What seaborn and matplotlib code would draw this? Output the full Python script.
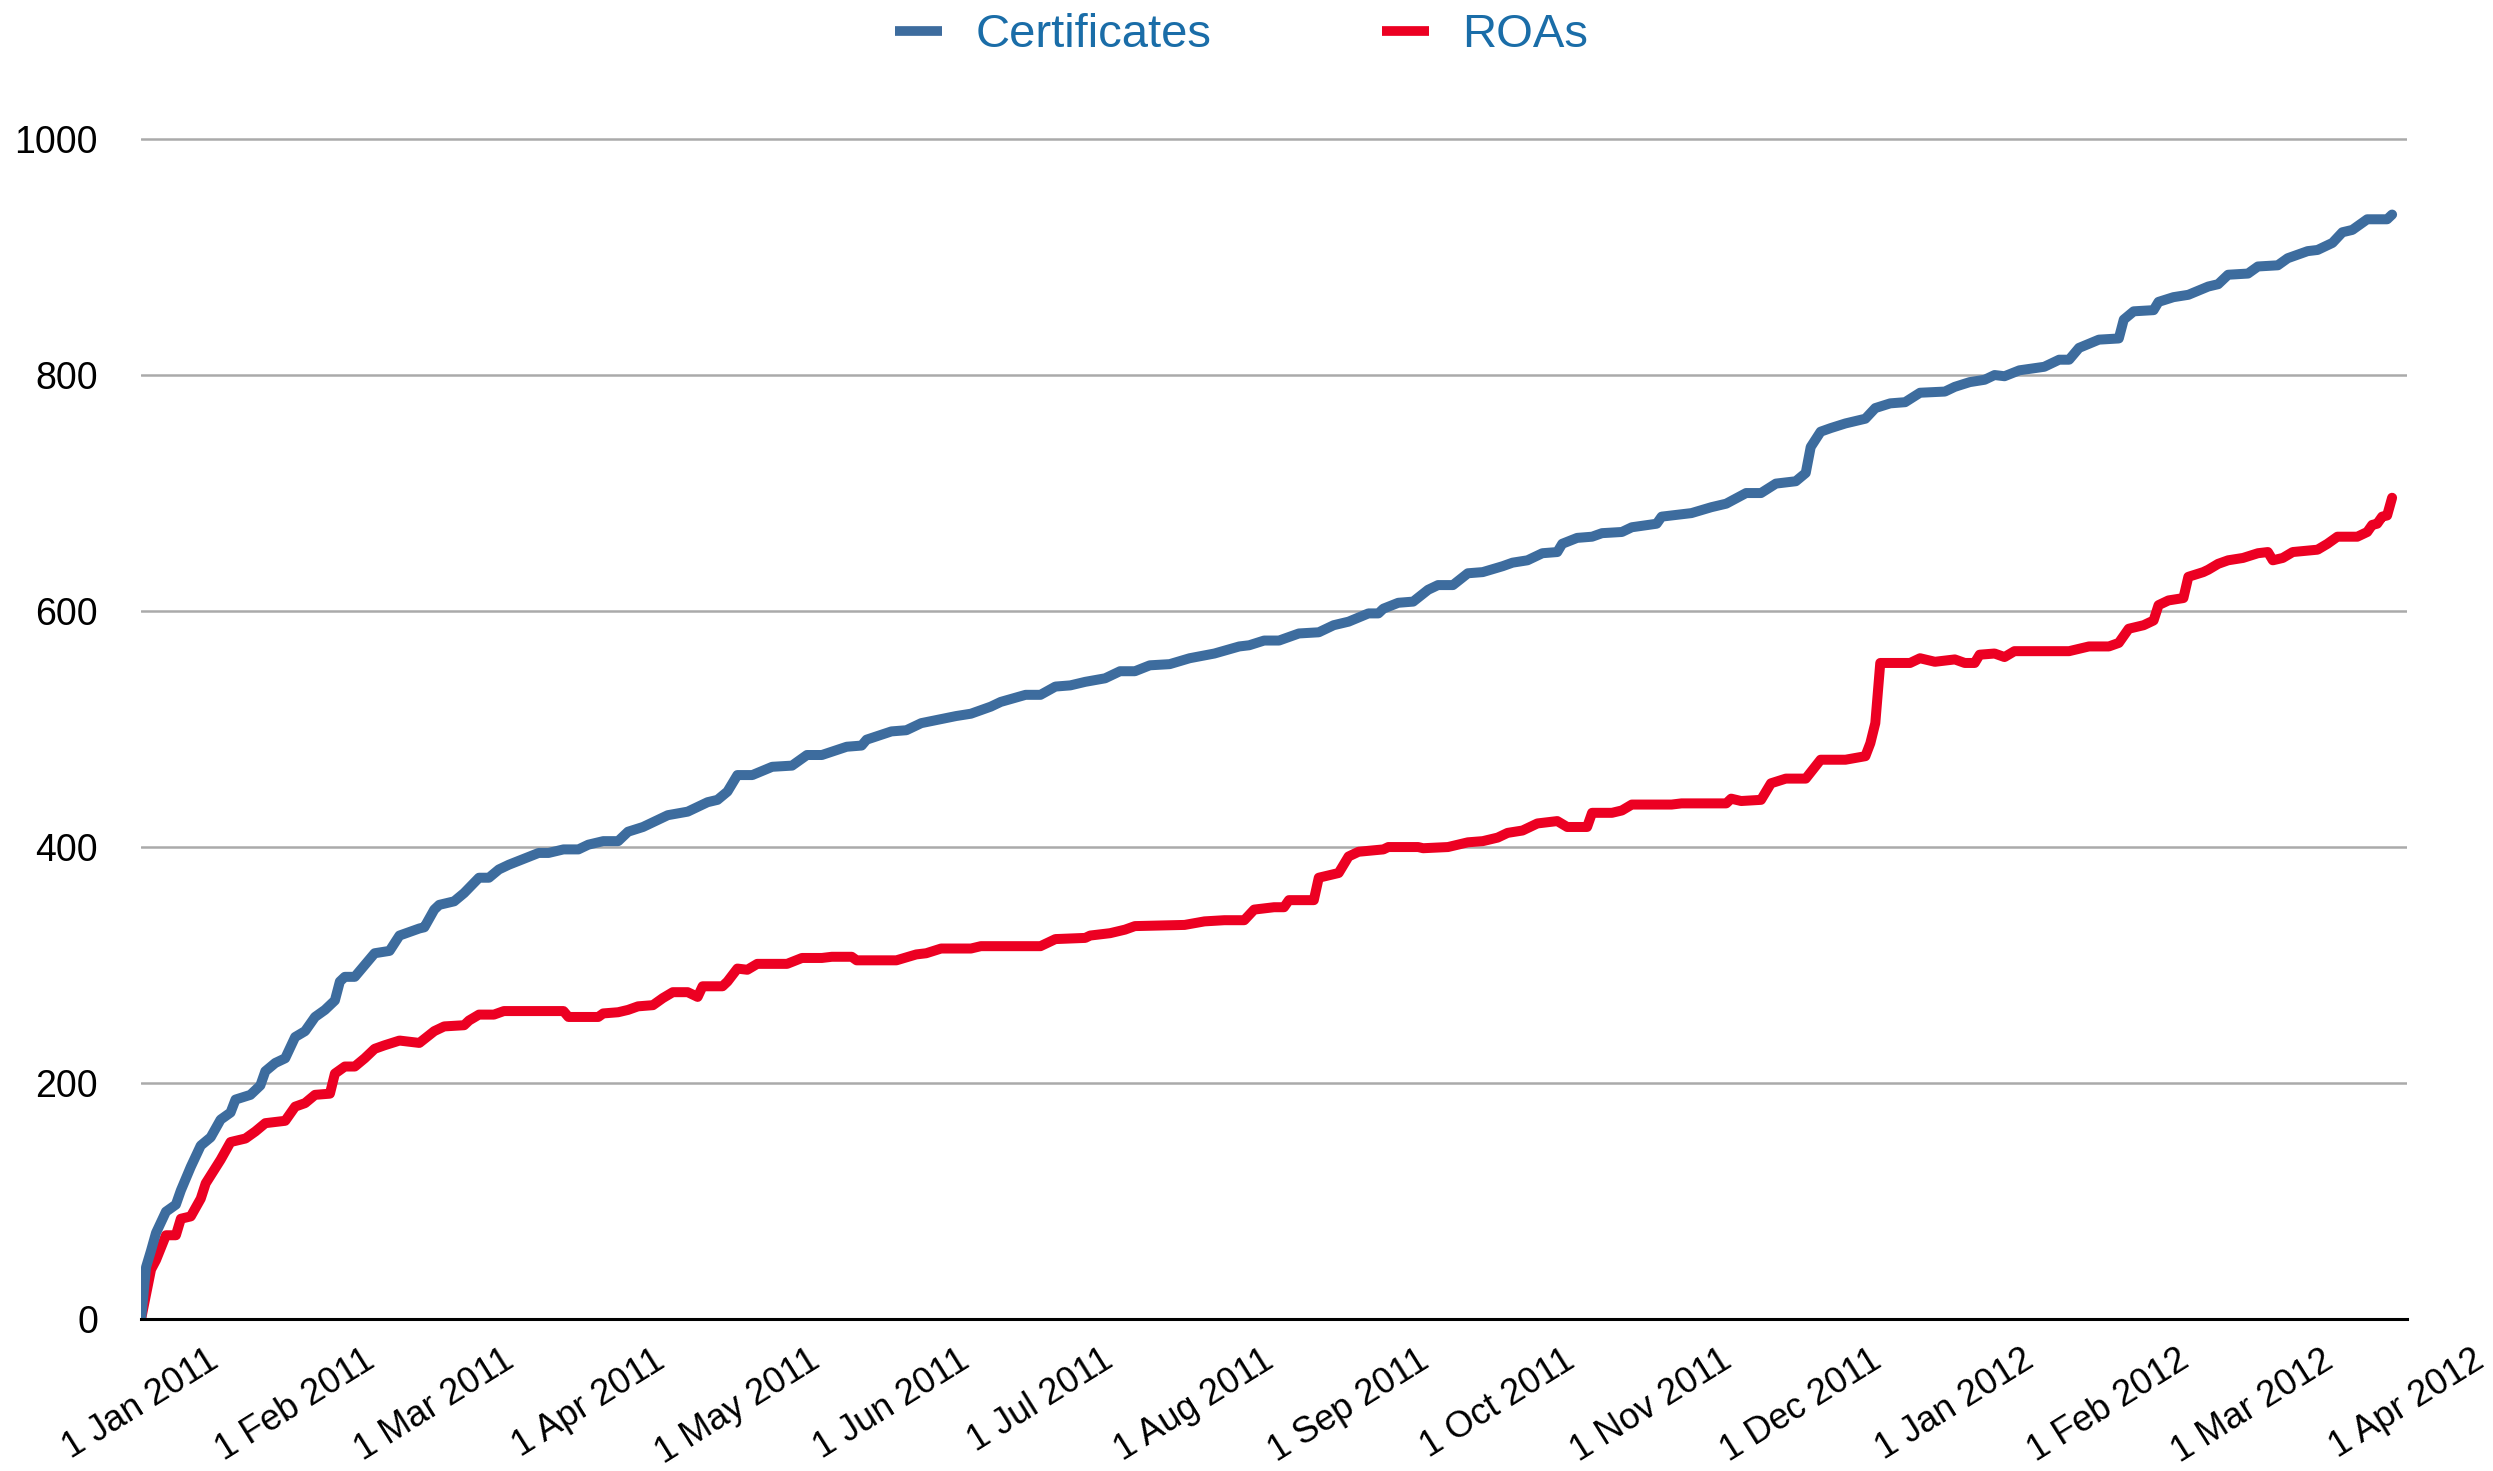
import pandas as pd
import matplotlib
matplotlib.use("Agg")
import matplotlib.pyplot as plt
import matplotlib.dates as mdates
from matplotlib.ticker import FuncFormatter, FixedLocator
from matplotlib.lines import Line2D
import seaborn as sns

# ---- data (days since 1 Jan 2011, cumulative counts) ----
START_DATE = "2011-01-01"
END_DATE = "2012-04-01"

cert_days = [0, 1, 2, 3, 5, 7, 8, 10, 12, 14, 16, 18, 19, 22, 24, 25, 27, 29, 31, 33,
             35, 37, 39, 40, 41, 43, 45, 47, 50, 52, 56, 57, 59, 60, 63, 65, 68, 70, 72, 74,
             77, 80, 82, 85, 88, 90, 93, 96, 98, 101, 106, 110, 112, 114, 116, 118, 120, 123, 127, 131,
             134, 137, 142, 145, 146, 151, 154, 157, 164, 167, 171, 173, 178, 181, 184, 187, 190, 194, 197, 200,
             203, 207, 211, 216, 221, 223, 226, 229, 233, 237, 240, 243, 247, 249, 250, 253, 256, 259, 261, 264,
             267, 270, 274, 276, 279, 282, 285, 286, 289, 292, 294, 298, 300, 305, 306, 312, 316, 319, 323, 326,
             329, 333, 335, 336, 338, 340, 343, 347, 349, 352, 355, 358, 363, 365, 368, 371, 373, 375, 378, 383,
             386, 388, 390, 394, 398, 399, 401, 405, 406, 409, 412, 416, 418, 420, 424, 426, 430, 432, 436, 438,
             441, 443, 445, 448, 452, 453]
cert_counts = [0, 44, 58, 73, 91, 97, 109, 129, 147, 154, 169, 175, 186, 190, 198, 210, 217, 221, 239, 244,
               256, 262, 270, 286, 290, 290, 300, 310, 312, 325, 331, 332, 347, 351, 354, 361, 374, 374, 381, 385,
               390, 395, 395, 398, 398, 402, 405, 405, 413, 417, 427, 430, 434, 438, 440, 447, 461, 461, 468, 469,
               478, 478, 485, 486, 491, 498, 499, 505, 511, 513, 519, 523, 529, 529, 536, 537, 540, 543, 549, 549,
               554, 555, 560, 564, 570, 571, 575, 575, 581, 582, 588, 591, 598, 598, 602, 607, 608, 618, 622, 622,
               632, 633, 638, 641, 643, 649, 650, 657, 662, 663, 666, 667, 671, 674, 680, 683, 688, 691, 700, 700,
               708, 710, 717, 739, 752, 755, 759, 763, 772, 776, 777, 785, 786, 790, 794, 796, 800, 799, 804, 807,
               813, 813, 823, 830, 831, 847, 854, 855, 862, 866, 868, 875, 877, 885, 886, 892, 893, 899, 905, 906,
               912, 921, 923, 932, 932, 936]

roa_days = [0, 2, 3, 5, 7, 8, 10, 12, 13, 16, 18, 21, 23, 25, 29, 31, 33, 35, 38, 39,
            41, 43, 45, 47, 49, 52, 56, 59, 61, 65, 66, 68, 71, 73, 85, 86, 92, 93, 96, 98,
            100, 103, 105, 107, 110, 112, 113, 117, 118, 120, 122, 124, 130, 133, 137, 139, 143, 144, 152, 156,
            158, 161, 167, 169, 181, 184, 190, 191, 195, 198, 200, 210, 214, 218, 222, 224, 228, 230, 231, 236,
            237, 241, 243, 245, 250, 251, 257, 258, 263, 267, 270, 273, 275, 278, 281, 285, 287, 291, 292, 296,
            298, 300, 308, 310, 319, 320, 322, 326, 328, 331, 335, 338, 343, 347, 348, 349, 350, 356, 358, 361,
            365, 367, 369, 370, 373, 375, 377, 388, 390, 392, 396, 398, 400, 403, 405, 406, 408, 411, 412, 415,
            416, 418, 420, 423, 426, 428, 429, 431, 433, 438, 440, 442, 446, 448, 449, 450, 451, 452, 453]
roa_counts = [0, 42, 50, 71, 71, 85, 87, 102, 115, 135, 150, 153, 159, 166, 168, 180, 183, 190, 191, 208,
              214, 214, 221, 229, 232, 236, 234, 244, 248, 249, 253, 258, 258, 261, 261, 256, 256, 259, 260, 262,
              265, 266, 272, 277, 277, 273, 282, 282, 286, 297, 296, 301, 301, 306, 306, 307, 307, 304, 304, 309,
              310, 314, 314, 316, 316, 322, 323, 325, 327, 330, 333, 334, 337, 338, 338, 347, 349, 349, 355, 355,
              374, 378, 392, 396, 398, 400, 400, 399, 400, 404, 405, 408, 412, 414, 420, 422, 417, 417, 429, 429,
              431, 436, 436, 437, 437, 441, 439, 440, 454, 458, 458, 474, 474, 477, 488, 505, 556, 556, 560, 557,
              559, 556, 556, 563, 564, 561, 566, 566, 568, 570, 570, 573, 585, 588, 592, 605, 609, 611, 629, 633,
              635, 640, 643, 645, 649, 650, 643, 645, 650, 652, 657, 663, 663, 667, 673, 674, 680, 681, 696]

series_names = ["Certificates", "ROAs"]
series_colors = {"Certificates": "#3d6c9e", "ROAs": "#ec0022"}
y_ticks = [0, 200, 400, 600, 800, 1000]

# ---- build long table ----
start = pd.Timestamp(START_DATE)
df = pd.concat([
    pd.DataFrame({"date": start + pd.to_timedelta(cert_days, unit="D"),
                  "count": cert_counts, "series": "Certificates"}),
    pd.DataFrame({"date": start + pd.to_timedelta(roa_days, unit="D"),
                  "count": roa_counts, "series": "ROAs"}),
], ignore_index=True)

sns.set_theme(style="white")
plt.rcParams["font.family"] = ["Liberation Sans", "DejaVu Sans"]

fig = plt.figure(figsize=(24.93, 14.71), dpi=100)
ax = fig.add_axes([0.0566, 0.1033, 0.9089, 0.8102])

sns.lineplot(data=df, x="date", y="count", hue="series",
             hue_order=["ROAs", "Certificates"], palette=series_colors,
             linewidth=7.2, estimator=None, legend=False, ax=ax)
for ln in ax.get_lines():
    ln.set_solid_joinstyle("round")
    ln.set_linewidth(7.2)

ax.set_xlim(pd.Timestamp(START_DATE), pd.Timestamp(END_DATE))
ax.set_ylim(0, 1010)
ax.set_xlabel("")
ax.set_ylabel("")

ax.xaxis.set_major_locator(mdates.MonthLocator())


def fmt_date(x, pos):
    d = mdates.num2date(x)
    return f"{d.day} {d.strftime('%b %Y')}"


ax.xaxis.set_major_formatter(FuncFormatter(fmt_date))
ax.yaxis.set_major_locator(FixedLocator(y_ticks))

ax.tick_params(axis="x", length=0, pad=17, labelsize=26, labelrotation=32, colors="black")
ax.tick_params(axis="y", length=0, pad=31, labelsize=27, colors="black")

ax.yaxis.grid(True, color="#aaaaaa", linewidth=1.8)
ax.xaxis.grid(False)
ax.set_axisbelow(True)
for s in ["left", "right", "top"]:
    ax.spines[s].set_visible(False)
ax.spines["bottom"].set_color("black")
ax.spines["bottom"].set_linewidth(2.2)

handles = [Line2D([], [], color=series_colors[n], linewidth=7, solid_capstyle="butt")
           for n in series_names]
leg = fig.legend(handles, series_names, loc="center", bbox_to_anchor=(0.498, 0.976),
                 ncol=2, frameon=False, fontsize=34, handlelength=1.0,
                 handletextpad=0.7, columnspacing=3.6)
for t in leg.get_texts():
    t.set_color("#1a6da8")

fig.savefig("out.png", dpi=100)
